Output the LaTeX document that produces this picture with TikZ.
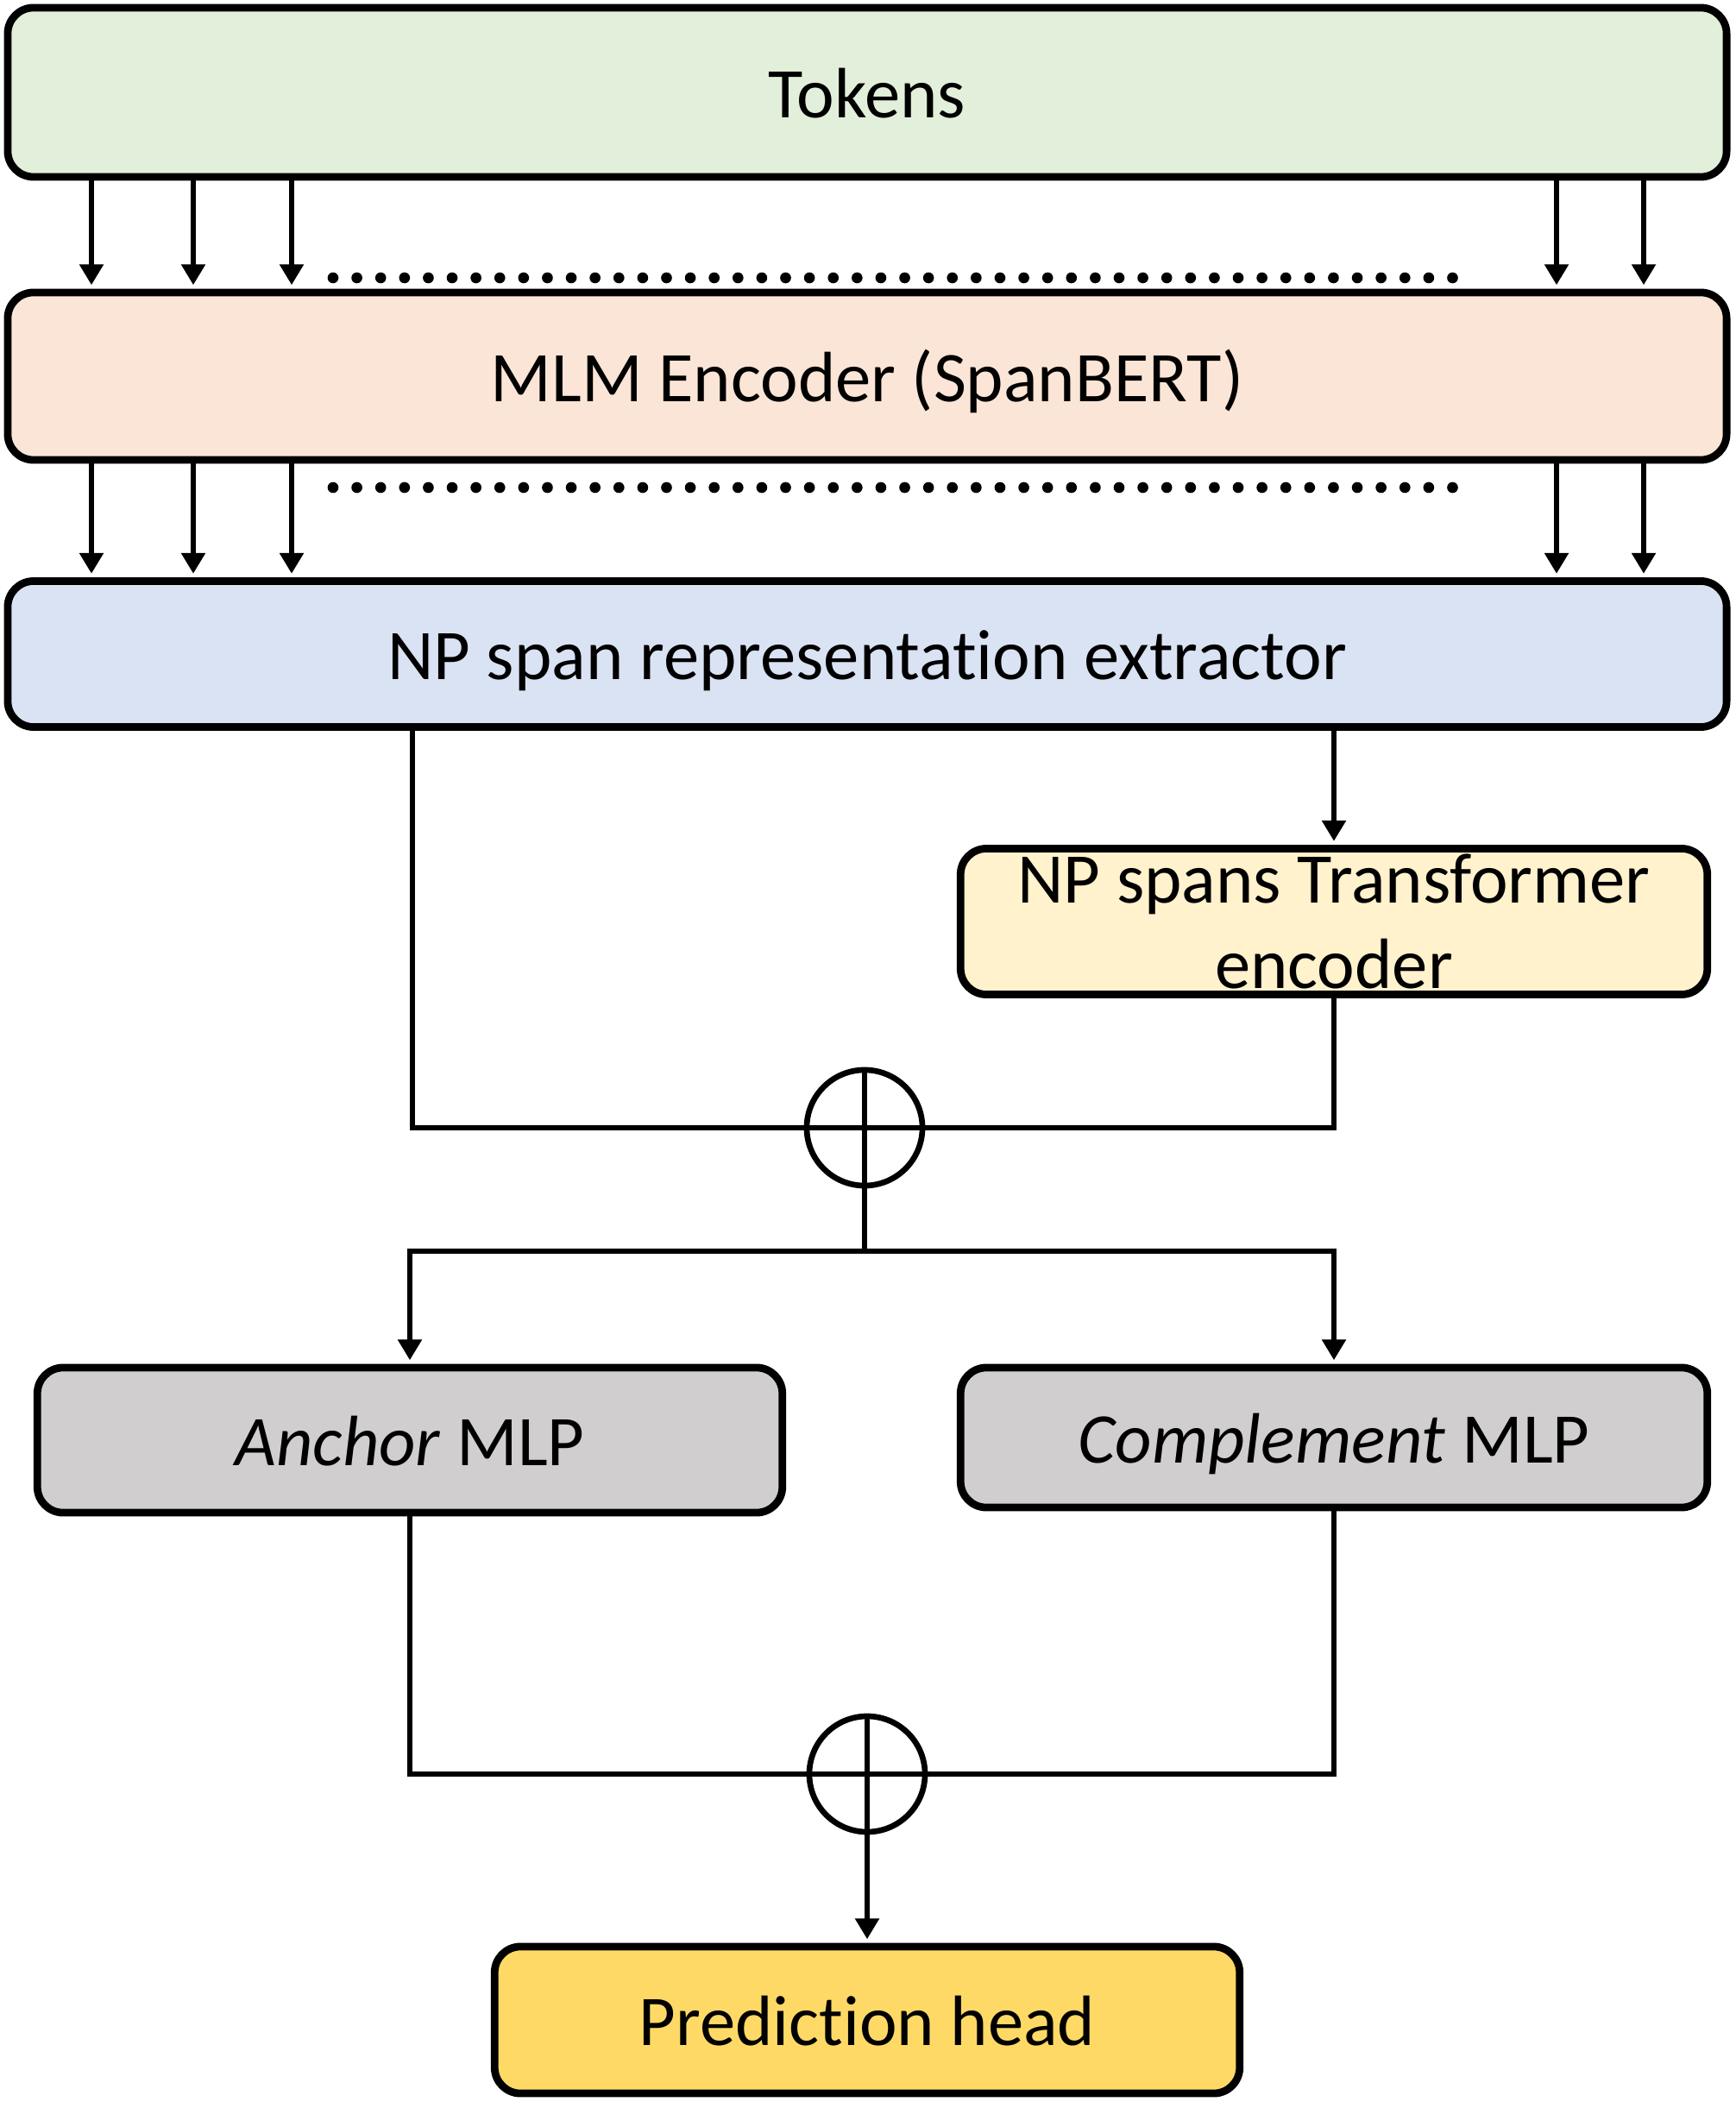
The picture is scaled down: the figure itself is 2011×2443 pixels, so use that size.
\documentclass[tikz,border=0pt]{standalone}
\usepackage{fontspec}
\setmainfont{Carlito}[Ligatures=NoCommon]
\usetikzlibrary{arrows.meta}
\definecolor{tokensgreen}{HTML}{E2EFDA}
\definecolor{mlmorange}{HTML}{FBE5D6}
\definecolor{extractorblue}{HTML}{DAE3F3}
\definecolor{transformeryellow}{HTML}{FFF2CC}
\definecolor{mlpgray}{HTML}{D0CECE}
\definecolor{headyellow}{HTML}{FFD966}

\begin{document}
\begin{tikzpicture}[x=0.01cm, y=-0.01cm,
    every node/.style={font=\fontsize{23.5}{28}\selectfont},
    box/.style={draw, rectangle, rounded corners=0.3cm, line width=2.5pt, inner sep=0pt, align=center, minimum width=19.91cm},
    onerow/.style={box, text height=20pt, text depth=3pt},
    wire/.style={line width=1.9pt},
    arr/.style={wire, shorten >=1.2pt, -{Triangle[length=6.8pt, width=7.6pt]}},
    dots/.style={line width=3.6pt, line cap=round, dash pattern=on 0pt off 7.85pt},
    plus/.style={draw, circle, line width=1.9pt, minimum size=1.34cm, inner sep=0pt,
        path picture={\draw[line width=1.9pt] (path picture bounding box.north) -- (path picture bounding box.south) (path picture bounding box.west) -- (path picture bounding box.east);}}]
    \useasboundingbox (0,0) rectangle (2011,2443);

    \node[onerow, fill=tokensgreen, minimum height=1.96cm] (tokens) at (1005,107) {Tokens};
    \node[onerow, fill=mlmorange, minimum height=1.94cm] (mlm) at (1005,436) {MLM Encoder (SpanBERT)};
    \node[onerow, fill=extractorblue, minimum height=1.69cm] (extractor) at (1005,758) {NP span representation extractor};
    \node[box, fill=transformeryellow, minimum width=8.65cm, minimum height=1.69cm] (transformer) at (1546,1068) {NP spans Transformer\\encoder};
    \node[plus] (sum1) at (1002,1307) {};
    \node[onerow, fill=mlpgray, minimum width=8.63cm, minimum height=1.68cm] (anchor) at (475,1669) {\textit{Anchor} MLP};
    \node[onerow, fill=mlpgray, minimum width=8.65cm, minimum height=1.62cm] (complement) at (1546,1666) {\textit{Complement} MLP};
    \node[plus] (sum2) at (1005,2056) {};
    \node[onerow, fill=headyellow, minimum width=8.63cm, minimum height=1.70cm] (head) at (1005,2341) {Prediction head};

    \foreach \x in {106,224,338,1804,1905} {
        \draw[arr] (\x,0 |- tokens.south) -- (\x,0 |- mlm.north);
        \draw[arr] (\x,0 |- mlm.south) -- (\x,0 |- extractor.north);
    }
    \draw[dots] (386,322) -- (1686,322);
    \draw[dots] (386,565) -- (1686,565);

    \draw[arr] (extractor.south -| transformer.north) -- (transformer.north);
    \draw[wire] (478,0 |- extractor.south) |- (sum1.west);
    \draw[wire] (transformer.south) |- (sum1.east);
    \coordinate (split) at (1002,1450);
    \draw[wire] (sum1.south) -- (split);
    \draw[arr] (split) -| (anchor.north);
    \draw[arr] (split) -| (complement.north);
    \draw[wire] (anchor.south) |- (sum2.west);
    \draw[wire] (complement.south) |- (sum2.east);
    \draw[arr] (sum2.south) -- (head.north);
\end{tikzpicture}
\end{document}
